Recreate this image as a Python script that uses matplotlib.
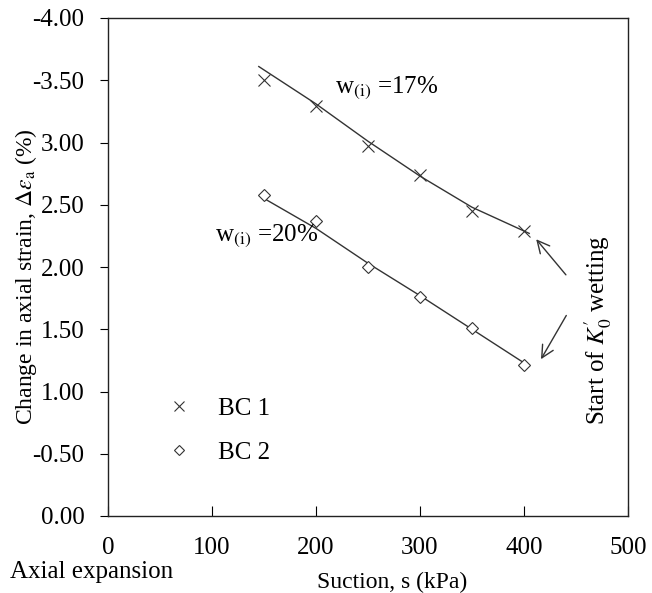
import numpy as np
import matplotlib
matplotlib.use("Agg")
import matplotlib.pyplot as plt
from matplotlib.lines import Line2D

plt.rcParams["font.family"] = ["Liberation Serif", "DejaVu Serif"]
plt.rcParams["mathtext.fontset"] = "stix"

# measured points (suction in kPa, axial strain change in %)
suction = [150, 200, 250, 300, 350, 400]
bc1_strain = [-3.50, -3.29, -2.97, -2.74, -2.45, -2.29]
bc2_strain = [-2.58, -2.37, -2.00, -1.76, -1.51, -1.21]

# trend lines
bc1_fit_x = [145, 200, 250, 300, 350, 405]
bc1_fit_y = [-3.61, -3.31, -3.01, -2.73, -2.48, -2.27]
bc2_fit_x = [146, 200, 250, 300, 350, 400]
bc2_fit_y = [-2.57, -2.31, -2.03, -1.77, -1.50, -1.23]

xticks = [0, 100, 200, 300, 400, 500]
yticks = [0.0, -0.5, -1.0, -1.5, -2.0, -2.5, -3.0, -3.5, -4.0]
ytick_labels = ["0.00", "-0.50", "1.00", "1.50", "2.00", "2.50", "3.00", "-3.50", "-4.00"]

fig = plt.figure(figsize=(6.52, 5.93), dpi=100)
ax = fig.add_axes([108 / 652, 1 - 516 / 593, 520 / 652, 498 / 593])

ink = "#333333"
ax.plot(bc1_fit_x, bc1_fit_y, color=ink, lw=1.0)
ax.plot(bc2_fit_x, bc2_fit_y, color=ink, lw=1.0)
ax.plot(suction, bc1_strain, ls="none", marker="x", ms=9, mew=0.8, color=ink)
ax.plot(suction, bc2_strain, ls="none", marker="D", ms=6.5, mew=0.8,
        mfc="white", mec=ink)

ax.set_xlim(0, 500)
ax.set_ylim(0, -4)
ax.set_xticks(xticks)
ax.set_yticks(yticks)
ax.set_yticklabels(ytick_labels)
ax.tick_params(axis="x", direction="in", length=7, pad=15, labelsize=18)
ax.tick_params(axis="y", direction="out", length=6, pad=11, labelsize=18)
for sp in ax.spines.values():
    sp.set_linewidth(1.0)
    sp.set_color("#222222")

ax.set_xlabel("Suction, s (kPa)", fontsize=17)
ax.xaxis.set_label_coords(0.546, -0.112)
ax.set_ylabel(r"Change in axial strain, $\Delta\varepsilon_{\rm a}$ (%)", fontsize=17)
ax.yaxis.set_label_coords(-0.132, 0.48)

ax.text(218, -3.44, r"w$_{(\rm i)}$ =17%", fontsize=18, va="center")
ax.text(103, -2.25, r"w$_{(\rm i)}$ =20%", fontsize=18, va="center")

ax.annotate("", xy=(410, -2.24), xytext=(442, -1.92),
            arrowprops=dict(arrowstyle="->", color=ink, lw=1.0, mutation_scale=22))
ax.annotate("", xy=(415, -1.24), xytext=(442, -1.63),
            arrowprops=dict(arrowstyle="->", color=ink, lw=1.0, mutation_scale=22))
ax.text(471, -1.49, r"Start of $K^{\prime}_{0}$ wetting", fontsize=18, rotation=90,
        ha="center", va="center")

handles = [
    Line2D([], [], ls="none", marker="x", ms=7, mew=0.8, color=ink),
    Line2D([], [], ls="none", marker="D", ms=5, mew=0.8, mfc="white", mec=ink),
]
ax.legend(handles, ["BC 1", "BC 2"], loc="upper left",
          bbox_to_anchor=(0.1125, 0.238), frameon=False, fontsize=18,
          handlelength=1.0, handletextpad=1.06, labelspacing=0.85,
          borderpad=0, borderaxespad=0, numpoints=1)

fig.text(10 / 652, 1 - 572 / 593, "Axial expansion", fontsize=18, va="center")

fig.savefig("out.png", dpi=100)
